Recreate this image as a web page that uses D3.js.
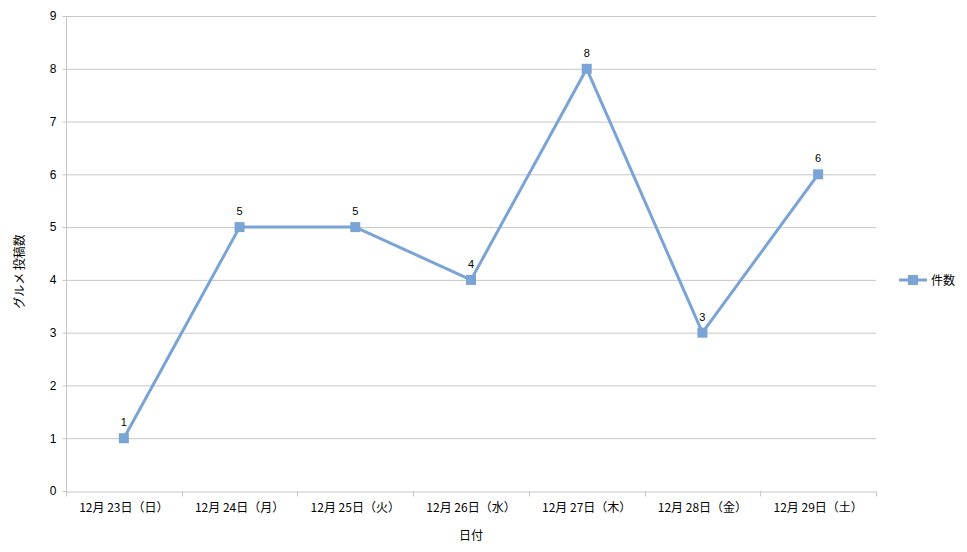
<!DOCTYPE html>
<html><head><meta charset="utf-8">
<script src="https://cdn.jsdelivr.net/npm/d3@7"></script>
<style>body{margin:0;background:#fff}svg{display:block}text{font-family:"Noto Sans CJK JP","Noto Sans",sans-serif;fill:#000}</style>
</head><body>
<script>
const categories = ["12月 23日（日）","12月 24日（月）","12月 25日（火）","12月 26日（水）","12月 27日（木）","12月 28日（金）","12月 29日（土）"];
const values = [1,5,5,4,8,3,6];
const yTicks = [0,1,2,3,4,5,6,7,8,9];
const seriesName = "件数";
const xTitle = "日付";
const yTitle = "グルメ 投稿数";

const W=967,H=552;
const m={l:66,r:876,t:16,b:491};
const color="#7aa3d6";
const svg=d3.select("body").append("svg").attr("width",W).attr("height",H);
const x=d3.scaleBand().domain(categories).range([m.l,m.r]);
const y=d3.scaleLinear().domain([0,9]).range([m.b,m.t]);

// grid
svg.append("g").selectAll("line").data(yTicks.filter(d=>d>0)).join("line")
 .attr("x1",m.l).attr("x2",m.r).attr("y1",d=>y(d)+0.5).attr("y2",d=>y(d)+0.5)
 .attr("stroke","#c6c6c6").attr("stroke-width",1);

// y axis
const ya=svg.append("g").attr("transform",`translate(${m.l+0.5},0)`)
 .call(d3.axisLeft(y).tickValues(yTicks).tickSize(4).tickPadding(6));
ya.select(".domain").attr("stroke","#c6c6c6").attr("d",`M0,${m.t}V${m.b}`);
ya.selectAll(".tick line").attr("stroke","#c6c6c6");
ya.selectAll(".tick").attr("transform",d=>`translate(0,${y(d)+0.5})`);
ya.selectAll("text").style("font-size","12px").style("font-family","Arial,'Liberation Sans',sans-serif");

// x axis
const xa=svg.append("g").attr("transform",`translate(0,${m.b+0.5})`)
 .call(d3.axisBottom(x).tickSize(0).tickPadding(12));
xa.select(".domain").attr("stroke","#c6c6c6");
xa.selectAll("text").style("font-size","12px");
const bounds=categories.map(c=>x(c)).concat([m.r]);
xa.selectAll(".bt").data(bounds).join("line").attr("class","bt")
 .attr("x1",d=>Math.round(d)+0.5).attr("x2",d=>Math.round(d)+0.5).attr("y1",0).attr("y2",5)
 .attr("stroke","#c6c6c6");

// line
const cx=d=>x(d)+x.bandwidth()/2;
svg.append("path").datum(values)
 .attr("d",d3.line().x((d,i)=>cx(categories[i])).y(d=>y(d)))
 .attr("fill","none").attr("stroke",color).attr("stroke-width",3).attr("stroke-linejoin","round");
svg.append("g").selectAll("rect").data(values).join("rect")
 .attr("x",(d,i)=>cx(categories[i])-5).attr("y",d=>y(d)-5).attr("width",10).attr("height",10).attr("fill",color);
svg.append("g").selectAll("text").data(values).join("text")
 .attr("x",(d,i)=>cx(categories[i])).attr("y",d=>y(d)-12).attr("text-anchor","middle")
 .style("font-size","11px").style("font-family","Arial,'Liberation Sans',sans-serif").text(d=>d);

// titles
svg.append("text").attr("x",(m.l+m.r)/2).attr("y",540).attr("text-anchor","middle").style("font-size","12px").text(xTitle);
svg.append("text").attr("transform",`translate(24,${(m.t+m.b)/2+18}) rotate(-90)`).attr("text-anchor","middle").style("font-size","12px").text(yTitle);

// legend
const lg=svg.append("g");
lg.append("line").attr("x1",899).attr("x2",927).attr("y1",280).attr("y2",280).attr("stroke",color).attr("stroke-width",3);
lg.append("rect").attr("x",908).attr("y",275).attr("width",10).attr("height",10).attr("fill",color);
lg.append("text").attr("x",931).attr("y",284.5).style("font-size","12px").text(seriesName);
</script>
</body></html>
